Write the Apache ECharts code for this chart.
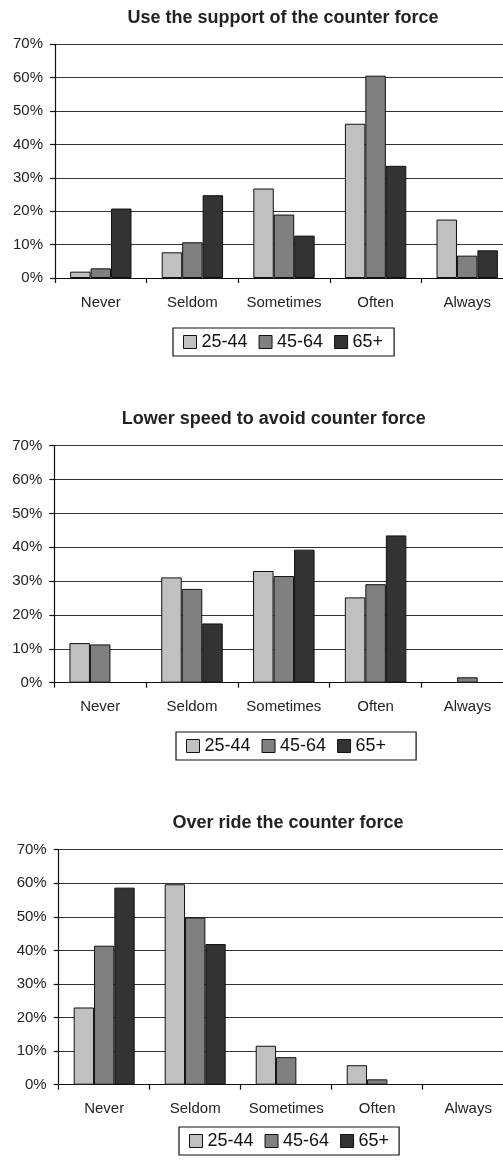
<!DOCTYPE html>
<html>
<head>
<meta charset="utf-8">
<script src="https://cdn.jsdelivr.net/npm/echarts@6/dist/echarts.min.js"></script>
<style>
html,body{margin:0;padding:0;background:#fff;}
#c{width:503px;height:1160px;}
</style>
</head>
<body>
<div id="c"></div>
<script>
const categories = ['Never', 'Seldom', 'Sometimes', 'Often', 'Always'];
const ageGroups = ['25-44', '45-64', '65+'];
const yTicks = [0, 10, 20, 30, 40, 50, 60, 70];
const titles = ['Use the support of the counter force', 'Lower speed to avoid counter force', 'Over ride the counter force'];

// Chart 1: Use the support of the counter force (%)
const support2544 = [1.9, 7.7, 26.8, 46.2, 17.5];
const support4564 = [2.9, 10.7, 19.0, 60.6, 6.7];
const support65 = [20.8, 24.8, 12.7, 33.6, 8.3];
// Chart 2: Lower speed to avoid counter force (%)
const lower2544 = [11.7, 31.1, 33.0, 25.2, 0];
const lower4564 = [11.3, 27.7, 31.5, 29.1, 1.6];
const lower65 = [0, 17.5, 39.3, 43.5, 0];
// Chart 3: Over ride the counter force (%)
const over2544 = [23.0, 59.7, 11.6, 5.8, 0];
const over4564 = [41.4, 49.8, 8.2, 1.6, 0];
const over65 = [58.7, 41.9, 0, 0, 0];

const panelData = [
  [support2544, support4564, support65],
  [lower2544, lower4564, lower65],
  [over2544, over4564, over65]
];

const colors = ['#c0c0c0', '#808080', '#333333'];
const FONT = '"Liberation Sans", Arial, sans-serif';

const layout = [
  {gridLeft: 55, gridTop: 44.3, gridW: 458, gridH: 233.7, titleX: 283, titleTop: 9, legLeft: 173, legTop: 328, legPad: [5, 11, 5, 10]},
  {gridLeft: 54.3, gridTop: 445.7, gridW: 459, gridH: 237, titleX: 273.7, titleTop: 410, legLeft: 176, legTop: 732, legPad: [5, 30, 5, 10]},
  {gridLeft: 58.7, gridTop: 849.7, gridW: 455, gridH: 235, titleX: 288, titleTop: 814, legLeft: 179, legTop: 1127, legPad: [5, 10, 5, 10]}
];

const option = {
  animation: false,
  backgroundColor: '#fff',
  color: colors,
  title: [], legend: [], grid: [], xAxis: [], yAxis: [], series: []
};

layout.forEach((L, i) => {
  option.title.push({
    text: titles[i], left: L.titleX, top: L.titleTop, textAlign: 'center', padding: 0,
    textStyle: {fontFamily: FONT, fontSize: 18, fontWeight: 'bold', color: '#222', lineHeight: 18}
  });
  option.legend.push({
    data: ageGroups, left: L.legLeft, top: L.legTop, orient: 'horizontal',
    icon: 'rect', itemWidth: 13, itemHeight: 13, itemGap: 11,
    padding: L.legPad, borderColor: '#111', borderWidth: 1.2, backgroundColor: '#fff',
    itemStyle: {borderColor: '#111', borderWidth: 1},
    textStyle: {fontFamily: FONT, fontSize: 18, color: '#111', padding: [0, 0, 0, 0]},
    selectedMode: false
  });
  option.grid.push({
    left: L.gridLeft, top: L.gridTop, width: L.gridW, height: L.gridH,
    containLabel: false, outerBoundsMode: 'none'
  });
  option.xAxis.push({
    type: 'category', gridIndex: i, data: categories,
    axisLine: {show: true, lineStyle: {color: '#111', width: 1.2}},
    axisTick: {show: true, length: 5, lineStyle: {color: '#111', width: 1.2}},
    axisLabel: {fontFamily: FONT, fontSize: 15, color: '#222', margin: 17, interval: 0}
  });
  option.yAxis.push({
    type: 'value', gridIndex: i, min: yTicks[0], max: yTicks[yTicks.length - 1], interval: 10,
    axisLine: {show: true, lineStyle: {color: '#111', width: 1.2}},
    axisTick: {show: true, length: 5, lineStyle: {color: '#111', width: 1.2}},
    axisLabel: {fontFamily: FONT, fontSize: 15, color: '#222', margin: 12, formatter: '{value}%'},
    splitLine: {show: true, lineStyle: {color: '#333', width: 1}}
  });
  ageGroups.forEach((g, k) => {
    option.series.push({
      name: g, type: 'bar', xAxisIndex: i, yAxisIndex: i,
      data: panelData[i][k].map(v => v === 0 ? {value: v, itemStyle: {borderWidth: 0}} : v),
      barGap: '0%', barCategoryGap: '33%',
      itemStyle: {color: colors[k], borderColor: '#111', borderWidth: 1}
    });
  });
});

const chart = echarts.init(document.getElementById('c'), null, {renderer: 'canvas'});
chart.setOption(option);
</script>
</body>
</html>
